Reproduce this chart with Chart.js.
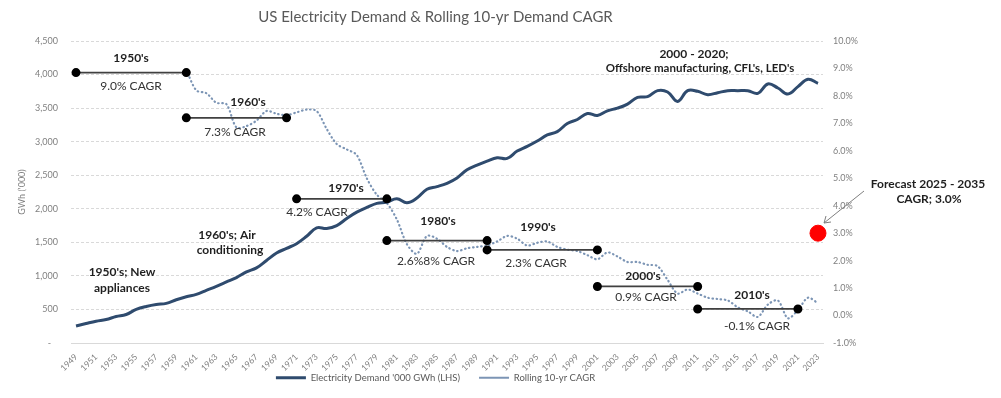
<!DOCTYPE html>
<html>
<head>
<meta charset="utf-8">
<script src="https://cdn.jsdelivr.net/npm/chart.js@4/dist/chart.umd.min.js"></script>
<style>
  body { margin: 0; background: #fff; }
  canvas { display: block; }
</style>
</head>
<body>
<canvas id="chart" width="1001" height="398"></canvas>
<script>
// Categories
const years = [];
for (let y = 1949; y <= 2023; y++) years.push(String(y));

// Electricity demand, '000 GWh (LHS), 1949 - 2023
const demand = [
  253, 290, 325, 350, 395, 425, 500, 545, 575, 590,
  645, 690, 725, 785, 845, 910, 975, 1060, 1120, 1230,
  1340, 1410, 1480, 1590, 1715, 1705, 1750, 1855, 1950, 2020,
  2080, 2100, 2150, 2090, 2160, 2290, 2330, 2380, 2460, 2580,
  2650, 2710, 2760, 2750, 2860, 2930, 3010, 3100, 3150, 3270,
  3330, 3420, 3390, 3460, 3500, 3560, 3660, 3670, 3760, 3740,
  3600, 3760, 3750, 3700, 3730, 3760, 3760, 3760, 3720, 3860,
  3800, 3710, 3820, 3930, 3870
];

// Rolling 10-yr CAGR (%), 1960 - 2023
const cagrStart = '1960';
const cagr = [
  8.95, 8.2, 8.1, 7.75, 7.7, 6.85, 6.9, 7.1, 7.45, 7.35,
  7.3, 7.4, 7.5, 7.45, 6.8, 6.25, 6.05, 5.85, 5.0, 4.4,
  4.1, 3.5, 2.6, 2.25, 2.9, 2.8, 2.5, 2.35, 2.45, 2.5,
  2.55, 2.7, 2.9, 2.8, 2.55, 2.65, 2.7, 2.5, 2.4, 2.35,
  2.2, 2.05, 2.3, 2.15, 1.95, 1.95, 1.85, 1.8, 1.3, 0.8,
  0.95, 0.8, 0.65, 0.6, 0.55, 0.3, 0.15, -0.05, 0.4, 0.55,
  -0.1, 0.2, 0.65, 0.45
];

// Decade CAGR bars
const decadeStart = ['1949', '1960', '1971', '1980', '1990', '2001', '2011'];
const decadeEnd = ['1960', '1970', '1980', '1990', '2001', '2011', '2021'];
const decadeCagr = [8.85, 7.2, 4.25, 2.73, 2.39, 1.06, 0.24];

// Forecast point
const forecastYear = '2023';
const forecastCagr = 3.0;

const cagrOffset = years.indexOf(cagrStart);
const cagrData = years.map((y, i) => (i >= cagrOffset ? cagr[i - cagrOffset] : null));

const datasets = [
  {
    label: "Electricity Demand '000 GWh (LHS)",
    data: demand,
    yAxisID: 'y',
    borderColor: '#2f4b6e',
    backgroundColor: '#2f4b6e',
    borderWidth: 3,
    pointRadius: 0,
    tension: 0.4,
    order: 2
  },
  {
    label: 'Rolling 10-yr CAGR',
    data: cagrData,
    yAxisID: 'y1',
    borderColor: '#7c95b5',
    backgroundColor: '#7c95b5',
    borderWidth: 2.2,
    borderDash: [0.5, 3.6],
    borderCapStyle: 'round',
    pointRadius: 0,
    tension: 0.3,
    order: 3
  }
];

decadeStart.forEach((s, i) => {
  datasets.push({
    label: 'decade' + i,
    data: [{ x: s, y: decadeCagr[i] }, { x: decadeEnd[i], y: decadeCagr[i] }],
    yAxisID: 'y1',
    borderColor: '#404040',
    borderWidth: 1.8,
    pointRadius: 3.6,
    pointBackgroundColor: '#000',
    pointBorderColor: '#000',
    order: 0
  });
});

datasets.push({
  label: 'forecast',
  data: [{ x: forecastYear, y: forecastCagr }],
  yAxisID: 'y1',
  showLine: false,
  pointRadius: 8,
  pointBackgroundColor: '#ff0000',
  pointBorderColor: '#ff0000',
  order: 0
});

// Text notes drawn on top of the chart
const notes = [
  { text: "1950's", x: 131, y: 58, bold: true },
  { text: '9.0% CAGR', x: 131, y: 86 },
  { text: "1960's", x: 248, y: 102, bold: true },
  { text: '7.3% CAGR', x: 235, y: 132 },
  { text: "1970's", x: 346, y: 188, bold: true },
  { text: '4.2% CAGR', x: 317, y: 212 },
  { text: "1980's", x: 438, y: 221, bold: true },
  { text: '2.6%8% CAGR', x: 436, y: 261 },
  { text: "1990's", x: 538, y: 227, bold: true },
  { text: '2.3% CAGR', x: 536, y: 263 },
  { text: "2000's", x: 643, y: 276, bold: true },
  { text: '0.9% CAGR', x: 646, y: 297 },
  { text: "2010's", x: 752, y: 295, bold: true },
  { text: '-0.1% CAGR', x: 757, y: 326 },
  { text: "1950's; New", x: 122, y: 272, bold: true },
  { text: 'appliances', x: 122, y: 288, bold: true },
  { text: "1960's; Air", x: 227, y: 235, bold: true },
  { text: 'conditioning', x: 230, y: 250, bold: true },
  { text: '2000 - 2020;', x: 694, y: 54, bold: true },
  { text: "Offshore manufacturing, CFL's, LED's", x: 700, y: 68, bold: true, size: 11.5 },
  { text: 'Forecast 2025 - 2035', x: 928, y: 184, bold: true },
  { text: 'CAGR; 3.0%', x: 929, y: 199, bold: true }
];

const notesPlugin = {
  id: 'notes',
  afterDatasetsDraw(chart) {
    const ctx = chart.ctx;
    ctx.save();
    ctx.textAlign = 'center';
    ctx.textBaseline = 'middle';
    notes.forEach(n => {
      ctx.font = (n.bold ? 'bold ' : '') + (n.size || 12) + 'px Lato';
      ctx.fillStyle = n.bold ? '#1f1f1f' : '#333333';
      ctx.fillText(n.text, n.x, n.y);
    });
    // arrow pointing at the forecast dot
    ctx.strokeStyle = '#7f7f7f';
    ctx.lineWidth = 1;
    ctx.beginPath();
    ctx.moveTo(864, 191);
    ctx.lineTo(824, 223);
    ctx.moveTo(824, 223);
    ctx.lineTo(831, 222);
    ctx.moveTo(824, 223);
    ctx.lineTo(826, 216);
    ctx.stroke();
    ctx.restore();
  }
};

Chart.defaults.font.family = 'Lato';
const baseLabels = Chart.defaults.plugins.legend.labels.generateLabels;

new Chart(document.getElementById('chart'), {
  type: 'line',
  data: { labels: years, datasets: datasets },
  options: {
    responsive: false,
    animation: false,
    layout: { padding: { left: 0, right: 130, top: 0, bottom: 5.5 } },
    plugins: {
      title: {
        display: true,
        text: 'US Electricity Demand & Rolling 10-yr Demand CAGR',
        color: '#595959',
        font: { size: 15, weight: 'normal' },
        padding: { top: 8, bottom: 15 }
      },
      legend: {
        position: 'bottom',
        labels: {
          filter: item => item.datasetIndex < 2,
          generateLabels: chart => {
            const items = baseLabels(chart);
            items.forEach(it => { if (it.datasetIndex === 0) it.text += '\u2003\u2003\u2002'; });
            return items;
          },
          usePointStyle: true,
          pointStyle: 'line',
          pointStyleWidth: 30,
          color: '#595959',
          font: { size: 9.5 },
          padding: 0
        }
      },
      tooltip: { enabled: false }
    },
    scales: {
      x: {
        offset: true,
        grid: { display: false },
        border: { display: true, color: '#d9d9d9', width: 1 },
        ticks: {
          autoSkip: false,
          minRotation: 45,
          maxRotation: 45,
          padding: 1,
          color: '#808080',
          font: { size: 8.5 },
          callback: function (v, i) { return i % 2 === 0 ? years[i] : ''; }
        },
        afterFit: s => { s.height = 30; }
      },
      y: {
        position: 'left',
        min: 0,
        max: 4500,
        grid: { color: '#d9d9d9', drawTicks: false },
        border: { display: false, dash: [3, 2] },
        ticks: {
          stepSize: 500,
          padding: 13,
          color: '#808080',
          font: { size: 9 },
          callback: v => (v === 0 ? '-   ' : v.toLocaleString('en-US'))
        },
        title: {
          display: true,
          text: "GWh ('000)",
          color: '#808080',
          font: { size: 9 },
          padding: { top: 17, bottom: 0 }
        },
        afterFit: s => { s.width = 71; }
      },
      y1: {
        position: 'right',
        min: -1,
        max: 10,
        grid: { drawOnChartArea: false, drawTicks: false },
        border: { display: false },
        ticks: {
          stepSize: 1,
          padding: 10,
          color: '#808080',
          font: { size: 9 },
          callback: v => v.toFixed(1) + '%'
        },
        afterFit: s => { s.width = 48; }
      }
    }
  },
  plugins: [notesPlugin]
});
</script>
</body>
</html>
